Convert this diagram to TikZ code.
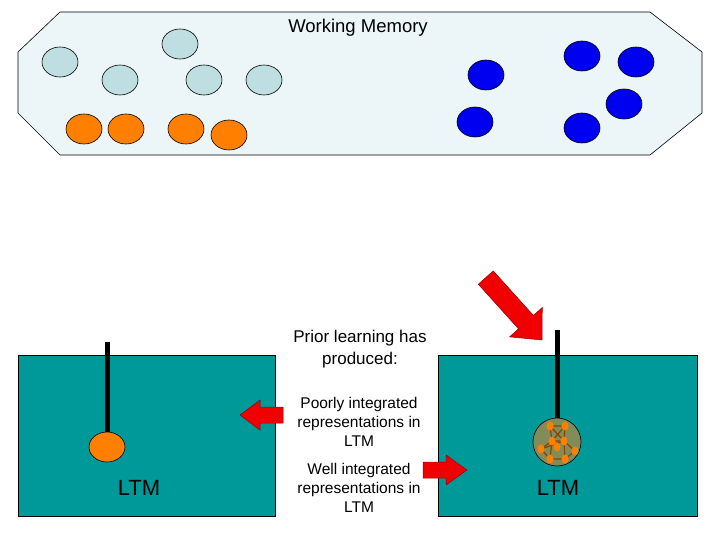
\documentclass[tikz,border=0pt]{standalone}
\usepackage{fontspec}
\setmainfont{Liberation Sans}
\definecolor{lblue}{RGB}{190,222,226}
\definecolor{orng}{RGB}{255,128,0}
\definecolor{dblue}{RGB}{0,0,240}
\definecolor{tealc}{RGB}{0,153,153}
\definecolor{redf}{RGB}{240,0,0}
\definecolor{redd}{RGB}{150,0,0}
\definecolor{wmbg}{RGB}{236,246,248}
\definecolor{olive2}{RGB}{130,140,90}
\definecolor{brownc}{RGB}{130,70,0}
\begin{document}
\begin{tikzpicture}[x=1pt,y=-1pt,
 lbl/.style={draw=black,fill=lblue,line width=0.6pt},
 org/.style={draw=black,fill=orng,line width=0.6pt},
 blu/.style={draw=black,fill=dblue,line width=0.6pt},
 teal/.style={draw=black,fill=tealc,line width=0.6pt},
 red/.style={draw=redd,fill=redf,line width=0.5pt},
 txt/.style={font=\fontsize{17}{22}\selectfont,align=center,inner sep=0pt}]
\useasboundingbox (0,0) rectangle (720,540);
\draw[fill=wmbg,line width=0.6pt] (60,12) -- (650,12) -- (702,52) -- (702,113) -- (650,155) -- (60,155) -- (18,113) -- (18,52) -- cycle;
\node[font=\fontsize{18.5}{20}\selectfont] (wm) at (358,28) {Working Memory};
\foreach \n/\x/\y in {a/60/62,b/180/44,c/120/80,d/204/80,e/264/80}
  \path[lbl] (\x,\y) ellipse (18 and 15) coordinate (l\n);
\foreach \n/\x/\y in {a/84/129,b/126/129,c/186/129,d/229/135}
  \path[org] (\x,\y) ellipse (18 and 15) coordinate (o\n);
\foreach \n/\x/\y in {a/486/75,b/475/122,c/582/56,d/636/62,e/624/104,f/582/128}
  \path[blu] (\x,\y) ellipse (18 and 15) coordinate (b\n);
\draw[teal] (18,355) rectangle (275,516);
\draw[teal] (438,355) rectangle (697,516);
\coordinate (lt) at (107,342); \coordinate (lb) at (107,435);
\draw[line width=5pt] (lt) -- (lb);
\path[org] (107,447) ellipse (18 and 15);
\coordinate (rt) at (557,330); \coordinate (rb) at (557,418);
\draw[line width=5pt] (rt) -- (rb);
\filldraw[fill=olive2,draw=black,line width=0.6pt] (557,442) circle (24);
\begin{scope}[draw=brownc,line width=1.2pt]
\draw (550,426)--(565,426)--(552,441)--(550,426)--(564,441)--(565,426);
\draw (552,441)--(564,441)--(575,451)--(565,459)--(564,441);
\draw (552,441)--(541,449)--(550,459)--(565,459);
\draw (552,441)--(550,459); \draw (541,449)--(564,441);
\end{scope}
\foreach \x/\y in {550/426,565/426,552/441,564/441,541/449,575/451,550/459,565/459,557/447}
  \fill[orng] (\x,\y) ellipse (3.5 and 4.5);
\node[txt] (prior) at (360,349) {Prior learning has\\produced:};
\node[txt,font=\fontsize{15.5}{19}\selectfont] (poor) at (359,422) {Poorly integrated\\representations in\\LTM};
\node[txt,font=\fontsize{15.5}{19}\selectfont] (well) at (359,488) {Well integrated\\representations in\\LTM};
\node[font=\fontsize{22}{24}\selectfont] (ltm1) at (139,488) {LTM};
\node[font=\fontsize{22}{24}\selectfont] (ltm2) at (558,488) {LTM};
\draw[red] (283,407) -- (260,407) -- (260,400) -- (240,415) -- (260,430) -- (260,423) -- (283,423) -- cycle;
\draw[red] (423,462) -- (446,462) -- (446,455) -- (467,470) -- (446,485) -- (446,478) -- (423,478) -- cycle;
\begin{scope}[shift={(542,340)},rotate=132]
\draw[red] (0,0) -- (24,-22) -- (24,-10) -- (84,-10) -- (84,10) -- (24,10) -- (24,22) -- cycle;
\end{scope}
\end{tikzpicture}
\end{document}
